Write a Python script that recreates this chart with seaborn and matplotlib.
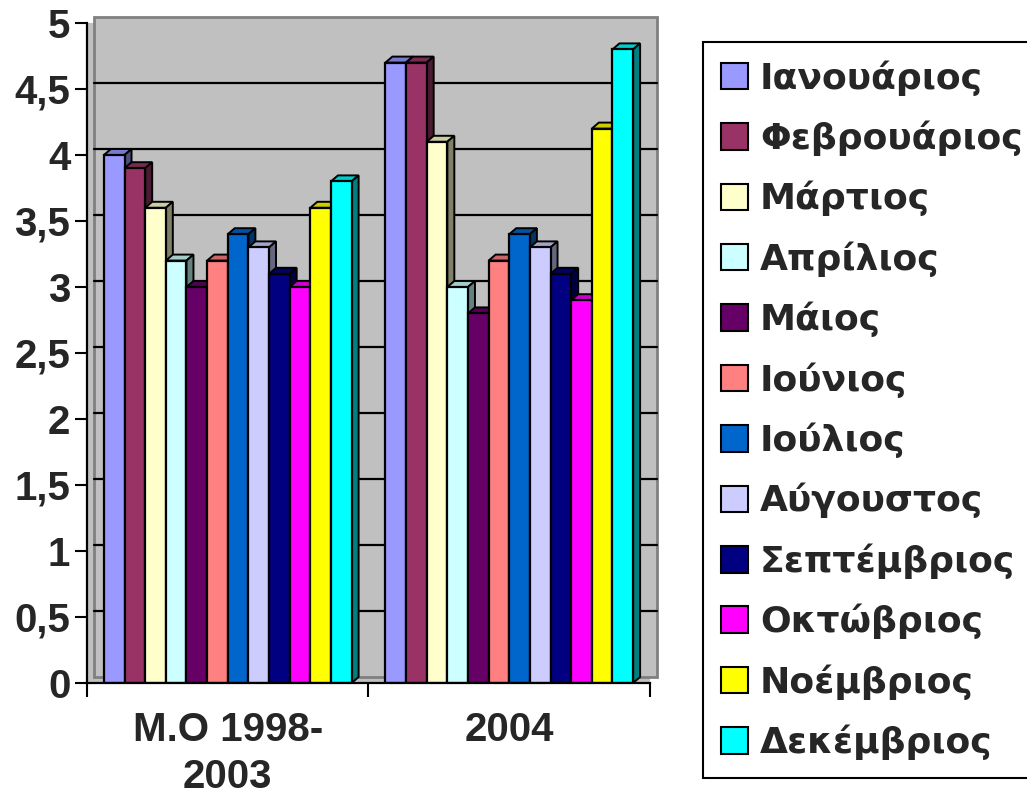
import matplotlib
matplotlib.use("Agg")
import matplotlib.pyplot as plt
import matplotlib.transforms as mtrans
from matplotlib.patches import Polygon, Rectangle
from matplotlib.font_manager import FontProperties
import matplotlib.colors as mcl
import pandas as pd
import seaborn as sns
import numpy as np

# data
periods = ["M.O 1998-\n2003", "2004"]
months = ["Ιανουάριος", "Φεβρουάριος", "Μάρτιος", "Απρίλιος", "Μάιος", "Ιούνιος",
          "Ιούλιος", "Αύγουστος", "Σεπτέμβριος", "Οκτώβριος", "Νοέμβριος", "Δεκέμβριος"]
avg_1998_2003 = [4.0, 3.9, 3.6, 3.2, 3.0, 3.2, 3.4, 3.3, 3.1, 3.0, 3.6, 3.8]
year_2004 = [4.7, 4.7, 4.1, 3.0, 2.8, 3.2, 3.4, 3.3, 3.1, 2.9, 4.2, 4.8]
y_ticks = [0, 0.5, 1, 1.5, 2, 2.5, 3, 3.5, 4, 4.5, 5]
y_labels = ["0", "0,5", "1", "1,5", "2", "2,5", "3", "3,5", "4", "4,5", "5"]

colors = ["#9999FF", "#993366", "#FFFFCC", "#CCFFFF", "#660066", "#FF8080",
          "#0066CC", "#CCCCFF", "#000080", "#FF00FF", "#FFFF00", "#00FFFF"]

df = pd.DataFrame({
    "period": [periods[0]] * 12 + [periods[1]] * 12,
    "month": months * 2,
    "value": avg_1998_2003 + year_2004,
})

sns.set_style("white")
plt.rcParams['font.family'] = ['Liberation Sans', 'DejaVu Sans']
plt.rcParams['font.weight'] = 'bold'

W, H = 1027, 798
fig = plt.figure(figsize=(W / 100, H / 100), dpi=100)
ax = fig.add_axes([87 / W, 1 - 683 / H, (650 - 87) / W, (683 - 23) / H])

sns.barplot(data=df, x="period", y="value", hue="month", hue_order=months,
            order=periods, palette=colors, width=0.88, saturation=1,
            edgecolor="black", linewidth=1.6, ax=ax)
ax.set_xlim(-0.5, 1.5)
ax.set_ylim(0, 5)

# pseudo 3D depth (pixels)
dpx, dpy = 7, 6
offset = mtrans.ScaledTranslation(dpx / 100, dpy / 100, fig.dpi_scale_trans)

# back wall
ax.set_facecolor("#C0C0C0")
wall = Rectangle((0, 0), 1, 1, transform=ax.transAxes + offset, facecolor="#C0C0C0",
                 edgecolor="#808080", linewidth=2, zorder=0, clip_on=False)
ax.add_patch(wall)
for yv in y_ticks[1:-1]:
    ax.plot([0, 1], [yv, yv], transform=ax.get_yaxis_transform() + offset,
            color="black", lw=1.6, zorder=0.5, clip_on=False)

# depth in data units
x0p, y0p = ax.transData.transform((0, 0))
ddx, ddy = ax.transData.inverted().transform((x0p + dpx, y0p + dpy))
bars = [p for p in ax.patches if isinstance(p, Rectangle) and p is not wall]
bars.sort(key=lambda p: p.get_x())
for i, p in enumerate(bars):
    xa = p.get_x()
    xb = xa + p.get_width()
    h = p.get_height()
    fc = np.array(mcl.to_rgb(p.get_facecolor()))
    p.set_zorder(3 + 2 * i)
    top = Polygon([(xa, h), (xb, h), (xb + ddx, h + ddy), (xa + ddx, h + ddy)],
                  closed=True, facecolor=fc * 0.8, edgecolor="black", lw=1.4,
                  zorder=2 + 2 * i)
    side = Polygon([(xb, 0), (xb + ddx, ddy), (xb + ddx, h + ddy), (xb, h)],
                   closed=True, facecolor=fc * 0.5, edgecolor="black", lw=1.4,
                   zorder=2 + 2 * i)
    ax.add_patch(top)
    ax.add_patch(side)

# axes and ticks
for s in ["top", "right"]:
    ax.spines[s].set_visible(False)
for s in ["left", "bottom"]:
    ax.spines[s].set_color("black")
    ax.spines[s].set_linewidth(1.6)
    ax.spines[s].set_zorder(100)
ax.set_yticks(y_ticks)
ax.set_yticklabels(y_labels, fontsize=29, fontweight="bold")
ax.set_xticks([0, 1])
ax.set_xticklabels(periods, fontsize=29, fontweight="bold", linespacing=1.3)
ax.set_xticks([-0.5, 0.5, 1.5], minor=True)
ax.tick_params(axis="y", direction="out", length=9, width=1.5, color="black", left=True, pad=3)
ax.tick_params(axis="x", which="major", length=0, pad=20)
ax.tick_params(axis="x", which="minor", direction="out", length=10, width=1.5,
               color="black", bottom=True)
ax.set_xlabel("")
ax.set_ylabel("")

handles, labels = ax.get_legend_handles_labels()
ax.legend_.remove()
leg_font = FontProperties(family="DejaVu Sans", weight="bold", size=26)
leg = fig.legend(handles, labels, loc="upper left", bbox_to_anchor=(703 / W, 1 - 42 / H),
                 frameon=True, fancybox=False, edgecolor="black", framealpha=1,
                 borderaxespad=0, prop=leg_font,
                 handlelength=0.75, handleheight=0.75, handletextpad=0.33,
                 labelspacing=0.69, borderpad=0.5)
leg.get_frame().set_linewidth(1.5)
for hnd in leg.legend_handles:
    hnd.set_edgecolor("black")
    hnd.set_linewidth(1.5)

fig.savefig("out.png", dpi=100)
